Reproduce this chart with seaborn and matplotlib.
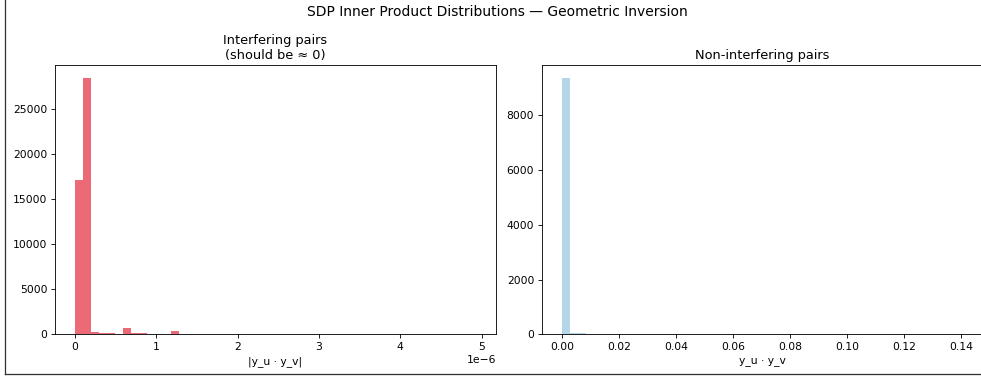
import numpy as np
import pandas as pd
import matplotlib
matplotlib.use("Agg")
import matplotlib.pyplot as plt
import seaborn as sns
from matplotlib.lines import Line2D

# ---- data ----
title = "SDP Inner Product Distributions — Geometric Inversion"
left_title = "Interfering pairs\n(should be ≈ 0)"
right_title = "Non-interfering pairs"
left_xlabel = "|y_u · y_v|"
right_xlabel = "y_u · y_v"

# Interfering pairs: 50 bins from 0 to left_max
left_max = 4.93e-6
left_counts = [17100, 28450, 280, 130, 90, 40, 650, 170, 90, 30,
               15, 10, 320, 20, 10, 8, 5, 4, 6, 3,
               3, 2, 2, 2, 1, 2, 1, 1, 1, 1,
               1, 1, 1, 0, 1, 1, 0, 1, 0, 0,
               1, 0, 1, 0, 0, 0, 0, 0, 0, 1]

# Non-interfering pairs: 50 bins from 0 to right_max
right_max = 0.1406
right_counts = [9375, 45, 30, 25, 15, 20, 8, 6, 5, 4,
                3, 3, 2, 2, 2, 1, 1, 1, 1, 1,
                1, 1, 0, 1, 1, 0, 1, 0, 1, 0,
                1, 0, 0, 1, 0, 0, 1, 0, 0, 0,
                1, 0, 0, 0, 0, 1, 0, 0, 0, 1]

left_color = "#ec6a75"
right_color = "#b3d6e8"

DPI = 77
fig = plt.figure(figsize=(981 / DPI, 383 / DPI), dpi=DPI)

ax1 = fig.add_axes([55 / 981, (383 - 334.3) / 383, 441 / 981, (334.3 - 65) / 383])
ax2 = fig.add_axes([541.7 / 981, (383 - 334.3) / 383, 441.5 / 981, (334.3 - 65) / 383])


def draw(ax, vmax, counts, color):
    edges = np.linspace(0, vmax, len(counts) + 1)
    centers = (edges[:-1] + edges[1:]) / 2
    df = pd.DataFrame({"value": centers, "count": np.asarray(counts, dtype=float)})
    sns.histplot(data=df, x="value", weights="count", bins=list(edges), ax=ax,
                 color=color, alpha=1.0, edgecolor="none", linewidth=0)
    ax.set_ylabel("")


draw(ax1, left_max, left_counts, left_color)
draw(ax2, right_max, right_counts, right_color)
ax2.set_xlim(-0.05 * right_max, 1.05 * right_max)

ax1.set_title(left_title, fontsize=12)
ax2.set_title(right_title, fontsize=12)
ax1.set_xlabel(left_xlabel)
ax2.set_xlabel(right_xlabel)
ax1.set_xticks([0, 1e-6, 2e-6, 3e-6, 4e-6, 5e-6])
ax2.set_xticks([0, 0.02, 0.04, 0.06, 0.08, 0.10, 0.12, 0.14])

fig.suptitle(title, fontsize=13, x=497.5 / 981, y=1 - 12 / 383, va="center")

# screenshot frame lines (left and bottom)
fig.add_artist(Line2D([5.3 / 981, 5.3 / 981], [1, (383 - 374.3) / 383],
                      transform=fig.transFigure, color="#333333", lw=1.2))
fig.add_artist(Line2D([5.3 / 981, 1], [(383 - 374.3) / 383, (383 - 374.3) / 383],
                      transform=fig.transFigure, color="#333333", lw=1.2))

fig.savefig("out.png", dpi=DPI)
